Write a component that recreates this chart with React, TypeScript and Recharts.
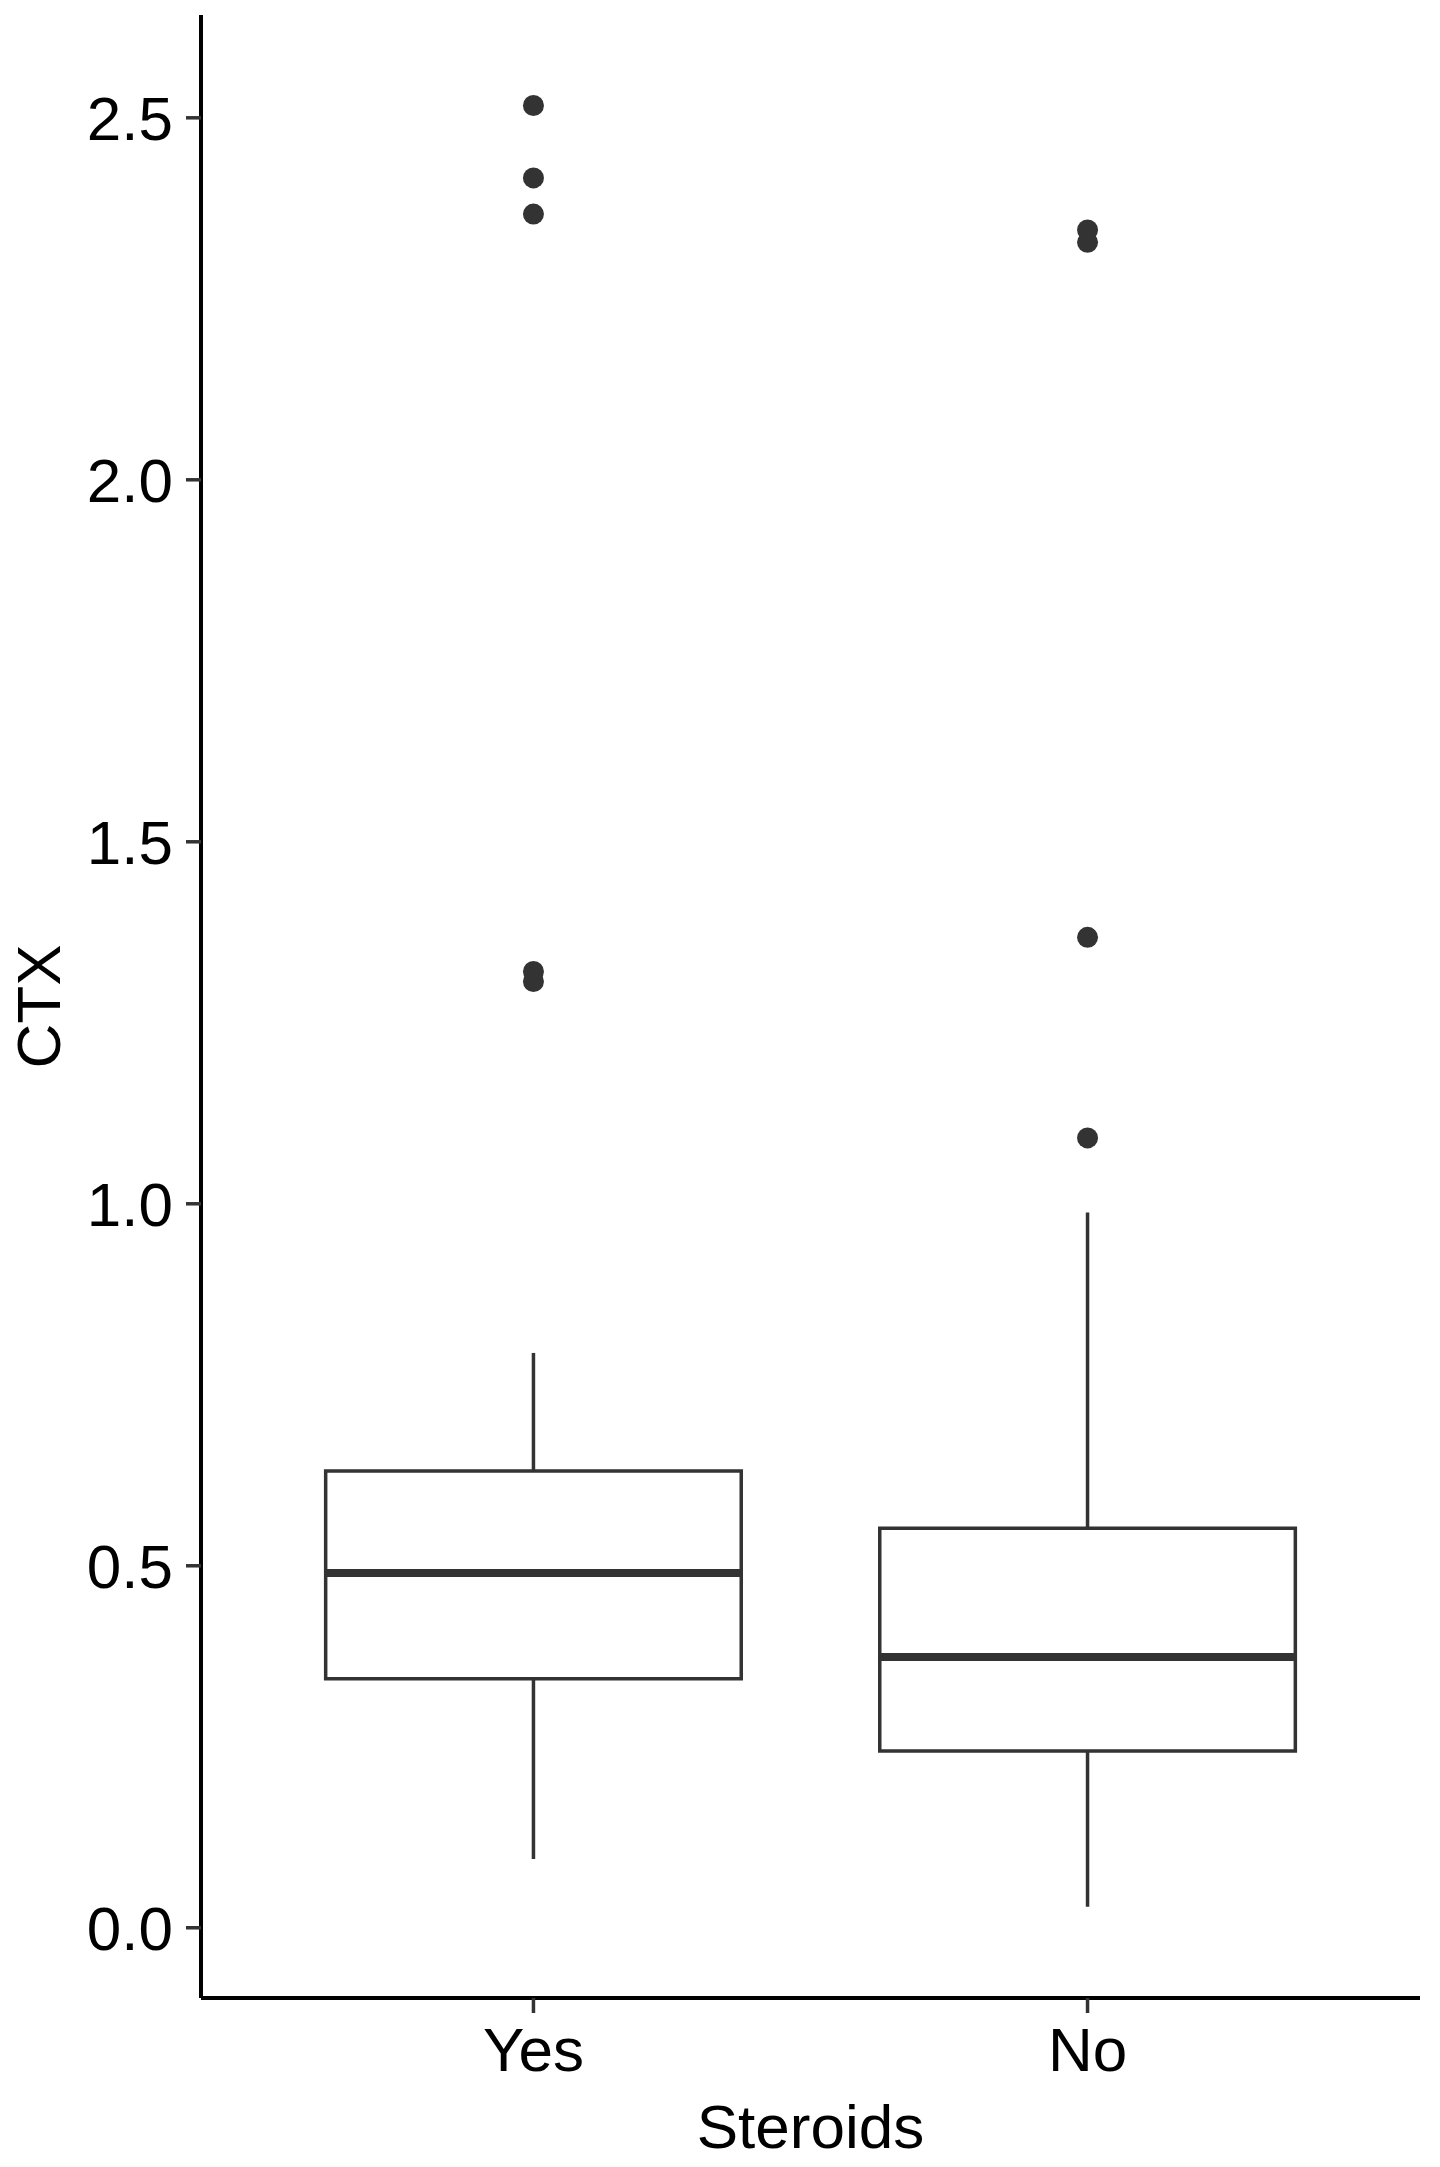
import {
  ComposedChart,
  XAxis,
  YAxis,
  Scatter,
  ReferenceArea,
  ReferenceLine,
} from 'recharts'

// Boxplot summary per group (CTX by steroid use)
const groups = ['Yes', 'No']
const whiskerLow = [0.095, 0.029]
const q1 = [0.344, 0.244]
const median = [0.49, 0.374]
const q3 = [0.631, 0.552]
const whiskerHigh = [0.794, 0.988]
const outliersYes = [2.517, 2.417, 2.367, 1.321, 1.307]
const outliersNo = [2.345, 2.328, 1.368, 1.091]
const yTicks = [0, 0.5, 1, 1.5, 2, 2.5]

const outlierSets = [outliersYes, outliersNo]
const outlierData = outlierSets.flatMap((vals, i) => vals.map(v => ({ x: i + 1, y: v })))

const BOX_HALF = 0.375
const INK = '#333333'
const FONT = '"Liberation Sans", Arial, Helvetica, sans-serif'

const Dot = (props: any) => {
  const { cx, cy } = props
  if (cx == null || cy == null) return null
  return <circle cx={cx} cy={cy} r={10.5} fill={INK} />
}

export default function App() {
  return (
    <div style={{ position: 'absolute', left: 0, top: 0, background: '#fff' }}>
      <ComposedChart
        width={1440}
        height={2167}
        margin={{ top: 15, right: 20, bottom: 0, left: 0 }}
        style={{ fontFamily: FONT }}
      >
        <XAxis
          type="number"
          dataKey="x"
          domain={[0.4, 2.6]}
          ticks={[1, 2]}
          tickFormatter={(v: number) => groups[v - 1] ?? ''}
          height={169}
          axisLine={{ stroke: '#000', strokeWidth: 4 }}
          tickLine={{ stroke: INK, strokeWidth: 3.5 }}
          tickSize={15}
          tickMargin={14}
          tick={{ fontSize: 62, fill: '#000', fontFamily: FONT }}
          allowDataOverflow
          label={{
            content: (p: any) => {
              const vb = p?.viewBox ?? { x: 201, y: 1998, width: 1219, height: 169 }
              return (
                <text
                  x={vb.x + vb.width / 2}
                  y={vb.y + 150}
                  textAnchor="middle"
                  fontSize={62}
                  fontFamily={FONT}
                  fill="#000"
                >
                  Steroids
                </text>
              )
            },
          }}
        />
        <YAxis
          type="number"
          dataKey="y"
          domain={[-0.097, 2.642]}
          ticks={yTicks}
          tickFormatter={(v: number) => v.toFixed(1)}
          width={201}
          axisLine={{ stroke: '#000', strokeWidth: 4 }}
          tickLine={{ stroke: INK, strokeWidth: 3.5 }}
          tickSize={15}
          tickMargin={13}
          tick={{ fontSize: 62, fill: '#000', fontFamily: FONT }}
          allowDataOverflow
          label={{
            content: (p: any) => {
              const vb = p?.viewBox ?? { x: 0, y: 15, width: 201, height: 1983 }
              const x = vb.x + 60
              const y = vb.y + vb.height / 2
              return (
                <text
                  x={x}
                  y={y}
                  transform={`rotate(-90 ${x} ${y})`}
                  textAnchor="middle"
                  fontSize={62}
                  fontFamily={FONT}
                  fill="#000"
                >
                  CTX
                </text>
              )
            },
          }}
        />

        {groups.map((g, i) => (
          <ReferenceArea
            key={`box-${g}`}
            x1={i + 1 - BOX_HALF}
            x2={i + 1 + BOX_HALF}
            y1={q1[i]}
            y2={q3[i]}
            fill="#fff"
            fillOpacity={1}
            stroke={INK}
            strokeWidth={3.5}
            strokeOpacity={1}
          />
        ))}
        {groups.map((g, i) => (
          <ReferenceLine
            key={`wu-${g}`}
            segment={[{ x: i + 1, y: q3[i] }, { x: i + 1, y: whiskerHigh[i] }]}
            stroke={INK}
            strokeWidth={3.5}
          />
        ))}
        {groups.map((g, i) => (
          <ReferenceLine
            key={`wl-${g}`}
            segment={[{ x: i + 1, y: whiskerLow[i] }, { x: i + 1, y: q1[i] }]}
            stroke={INK}
            strokeWidth={3.5}
          />
        ))}
        {groups.map((g, i) => (
          <ReferenceLine
            key={`med-${g}`}
            segment={[{ x: i + 1 - BOX_HALF, y: median[i] }, { x: i + 1 + BOX_HALF, y: median[i] }]}
            stroke={INK}
            strokeWidth={8}
          />
        ))}

        <Scatter data={outlierData} dataKey="y" shape={<Dot />} isAnimationActive={false} />
      </ComposedChart>
    </div>
  )
}
